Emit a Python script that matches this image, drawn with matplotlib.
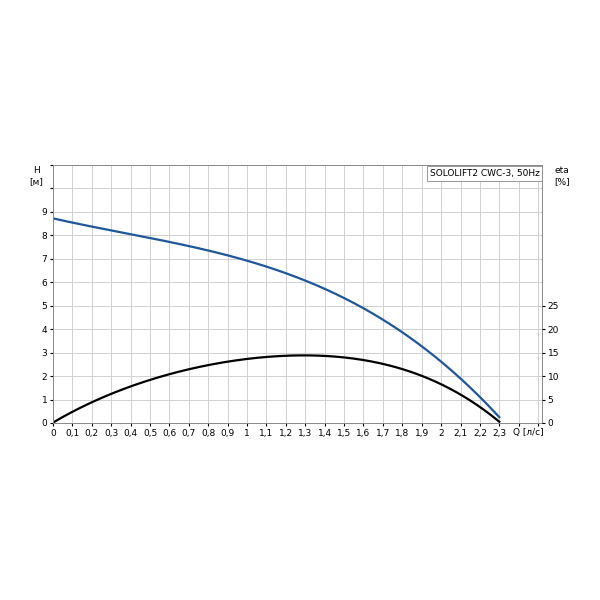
import matplotlib
matplotlib.use("Agg")
import matplotlib.pyplot as plt
import numpy as np

q_h = [0.0, 0.2, 0.5, 0.8, 1.0, 1.3, 1.5, 1.8, 2.0, 2.2, 2.3]
h_vals = [8.65, 8.45, 7.95, 7.35, 6.9, 6.0, 5.25, 3.9, 2.75, 1.2, 0.1]
q_eta = [0.0, 0.3, 0.6, 1.0, 1.3, 1.5, 1.8, 2.0, 2.2, 2.3]
eta_vals = [0.0, 6.5, 10.2, 13.5, 14.5, 14.2, 11.5, 8.0, 3.5, 0.3]
title = "SOLOLIFT2 CWC-3, 50Hz"

fig = plt.figure(figsize=(6, 6), dpi=100)
ax = fig.add_axes([53 / 600, 1 - 423 / 600, 489 / 600, 258 / 600])

qs = np.linspace(0, 2.3, 200)
ax.plot(qs, np.polyval(np.polyfit(q_h, h_vals, 3), qs), color="#1f569c", lw=1.6)
ax.plot(qs, np.polyval(np.polyfit(q_eta, eta_vals, 4), qs) / 5.0, color="black", lw=1.6)

ax.set_xlim(0, 2.52)
ax.set_ylim(0, 11)
ax.set_xticks(np.arange(0, 2.51, 0.1))
labels = []
for i in range(26):
    if i > 23:
        labels.append("")
    elif i % 10 == 0:
        labels.append(str(i // 10))
    else:
        labels.append(f"{i // 10},{i % 10}")
ax.set_xticklabels(labels, fontsize=6.5)
ax.set_yticks(range(12))
ax.set_yticklabels([str(i) if i <= 9 else "" for i in range(12)], fontsize=6.5)
ax.grid(True, color="#d0d0d0", lw=0.7)
ax.tick_params(length=2, pad=2)
for s in ax.spines.values():
    s.set_color("#888888")
    s.set_linewidth(0.7)

ax2 = ax.twinx()
ax2.set_ylim(0, 55)
ax2.set_yticks([0, 5, 10, 15, 20, 25])
ax2.tick_params(labelsize=6.5, length=2, pad=2)
for s in ax2.spines.values():
    s.set_visible(False)

fig.text(36 / 600, 1 - 176 / 600, "H\n[м]", fontsize=6.5, ha="center", va="center")
fig.text(562 / 600, 1 - 176 / 600, "eta\n[%]", fontsize=6.5, ha="center", va="center")
fig.text(2.45 / 2.52 * 489 / 600 + 53 / 600, 1 - 433 / 600, "Q [л/с]", fontsize=6.5, ha="center", va="center")
ax.text(0.995, 0.985, title, transform=ax.transAxes, fontsize=6.5, ha="right", va="top",
        bbox=dict(facecolor="white", edgecolor="#888888", lw=0.6, pad=2))

fig.savefig("out.png", dpi=100)
